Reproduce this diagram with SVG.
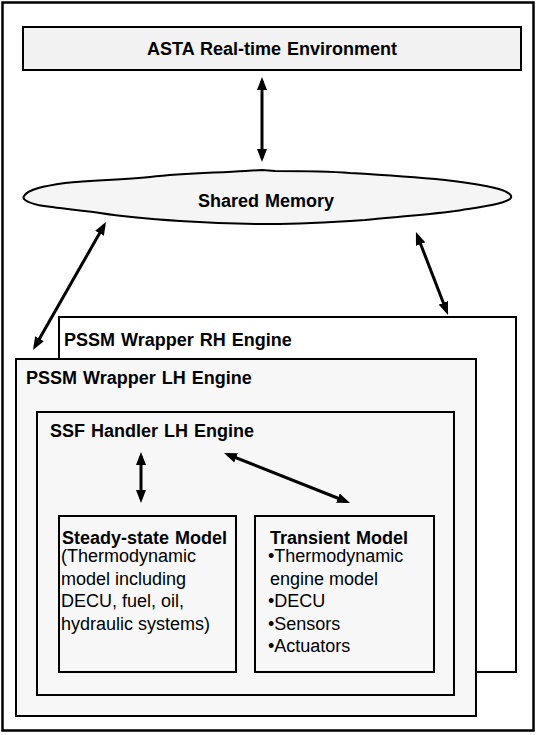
<svg xmlns="http://www.w3.org/2000/svg" width="537" height="735" viewBox="0 0 537 735">
<style>
.box{stroke:#000;stroke-width:2;}
.t{font-family:"Liberation Sans",Arial,sans-serif;font-size:18px;fill:#000;}
.b{font-weight:bold;word-spacing:1px;}
.c{stroke:#000;stroke-width:3;fill:none;marker-start:url(#ah);marker-end:url(#ah);}
</style>
<defs>
<marker id="ah" markerUnits="userSpaceOnUse" markerWidth="13" markerHeight="10" viewBox="0 0 13 10" refX="9" refY="5" orient="auto-start-reverse">
<path d="M0,0 L13,5 L0,10 z" fill="#000"/>
</marker>
</defs>
<rect x="0" y="0" width="537" height="735" fill="#fff"/>
<rect id="frame" x="2.5" y="2.5" width="531" height="728" fill="#fff" stroke="#000" stroke-width="2.5"/>
<g id="asta">
<rect class="box" x="23" y="27" width="498" height="43" fill="#f2f2f2"/>
<text class="t b" x="272" y="55" text-anchor="middle">ASTA Real-time Environment</text>
</g>
<g id="shared-memory">
<path class="box" fill="#f5f5f5" d="M24,196 C28,189 45,186 65,183 C92,180 120,180 150,177 C185,173 215,173 245,171 L262,170 L275,171 C300,171 325,171 350,173 C385,175 415,177 445,180 C470,183 490,186 502,190 C510,193 513,196 510,199 C500,205 480,207 455,211 C425,215 395,217 365,220 C335,222 300,224 270,224 C240,224 210,223 180,221 C150,219 125,217 100,213 C78,210 55,208 38,205 C26,202 22,199 24,196 Z"/>
<text class="t b" x="266" y="207" text-anchor="middle">Shared Memory</text>
</g>
<g id="rh-engine">
<rect class="box" x="59" y="317" width="457" height="355" fill="#fff"/>
<text class="t b" x="64" y="346">PSSM Wrapper RH Engine</text>
</g>
<g id="lh-engine">
<rect class="box" x="16" y="359" width="460" height="357" fill="#f7f7f7"/>
<text class="t b" x="26" y="384">PSSM Wrapper LH Engine</text>
</g>
<g id="ssf-handler">
<rect class="box" x="37" y="412" width="417" height="283" fill="#f7f7f7"/>
<text class="t b" x="50" y="437">SSF Handler LH Engine</text>
</g>
<g id="steady-state">
<rect class="box" x="59" y="516" width="177" height="156" fill="#f7f7f7"/>
<text class="t b" x="62" y="544">Steady-state Model</text>
<text class="t" x="61" y="562">(Thermodynamic</text>
<text class="t" x="61" y="584.6">model including</text>
<text class="t" x="61" y="607.2">DECU, fuel, oil,</text>
<text class="t" x="61" y="629.8">hydraulic systems)</text>
</g>
<g id="transient">
<rect class="box" x="255" y="516" width="179" height="156" fill="#f7f7f7"/>
<text class="t b" x="270" y="544">Transient Model</text>
<text class="t" x="268" y="562">•Thermodynamic</text>
<text class="t" x="270" y="584.6">engine model</text>
<text class="t" x="268" y="607.2">•DECU</text>
<text class="t" x="268" y="629.8">•Sensors</text>
<text class="t" x="268" y="652.4">•Actuators</text>
</g>
<g id="connectors">
<line class="c" x1="262" y1="81" x2="262" y2="158"/>
<line class="c" x1="104" y1="225.5" x2="35" y2="346.5"/>
<line class="c" x1="417.4" y1="235.7" x2="446.6" y2="311.3"/>
<line class="c" x1="141" y1="456" x2="141" y2="499"/>
<line class="c" x1="227.7" y1="454.5" x2="346.3" y2="501.5"/>
</g>
</svg>
